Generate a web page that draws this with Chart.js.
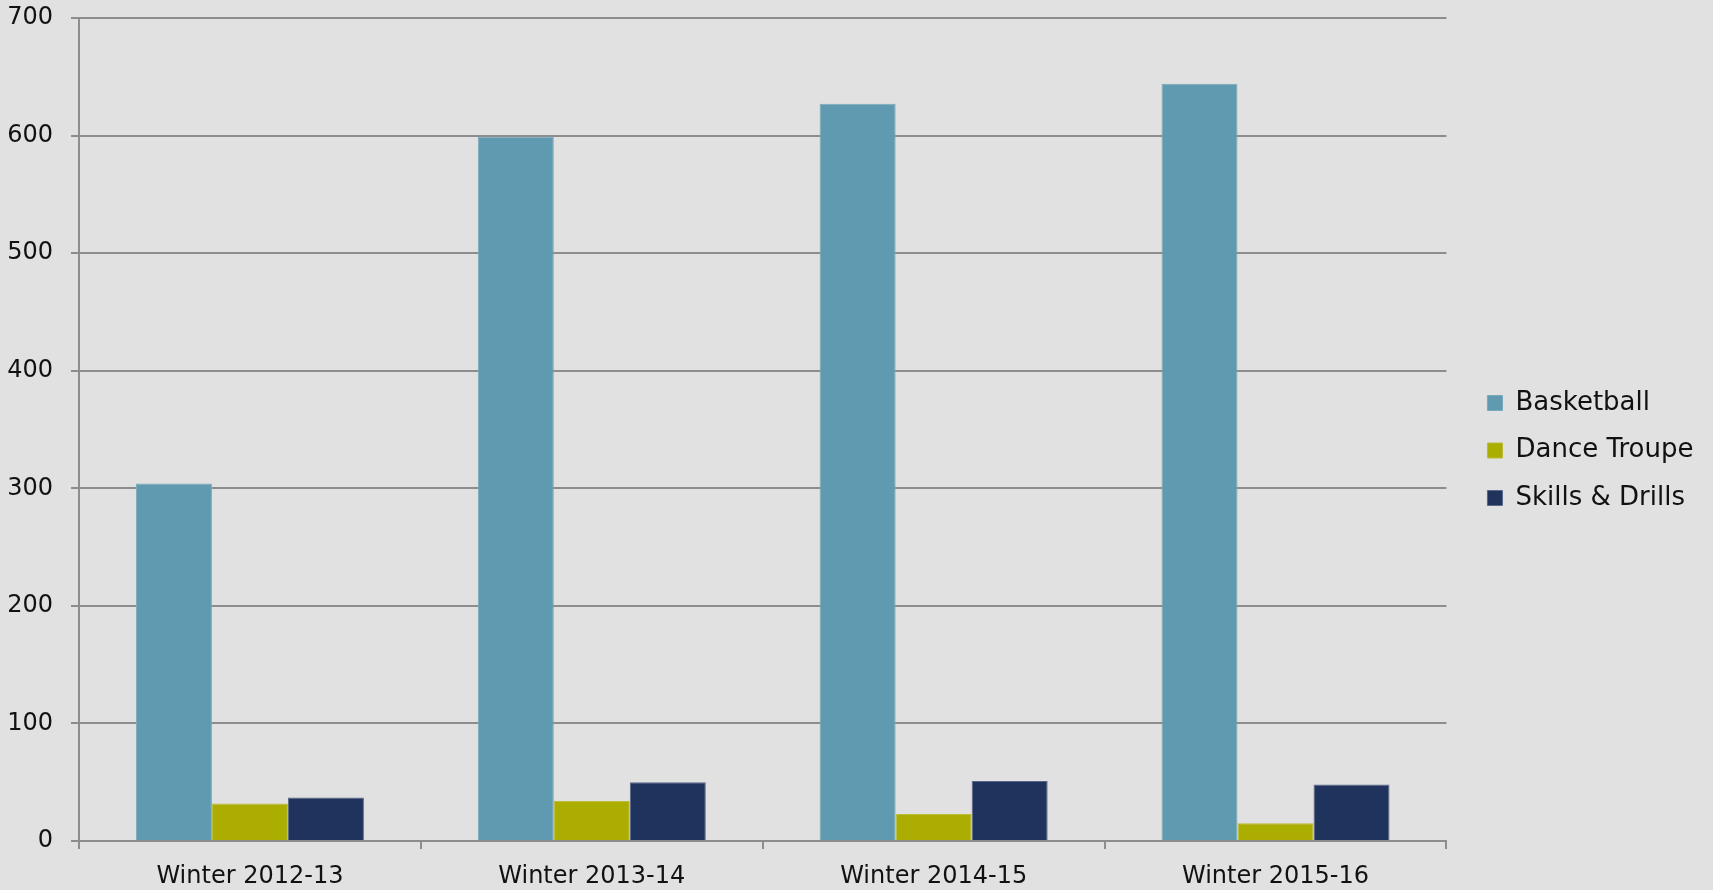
<!DOCTYPE html>
<html>
<head>
<meta charset="utf-8">
<script src="https://cdn.jsdelivr.net/npm/chart.js@4.4.1/dist/chart.umd.min.js"></script>
<style>
  html, body { margin: 0; padding: 0; background: #e1e1e1; }
  #wrap { width: 1713px; height: 890px; }
</style>
</head>
<body>
<div id="wrap"><canvas id="c" width="1713" height="890"></canvas></div>
<script>
// values
const categories = ['Winter 2012-13', 'Winter 2013-14', 'Winter 2014-15', 'Winter 2015-16'];
const basketball = [304, 599, 627, 644];
const danceTroupe = [32, 34, 23, 15];
const skillsDrills = [37, 50, 51, 48];
const seriesNames = ['Basketball', 'Dance Troupe', 'Skills & Drills'];

const gridCol = '#8d8d8d';
Chart.defaults.font.family = '"DejaVu Sans", sans-serif';
Chart.defaults.font.size = 24;
Chart.defaults.color = '#111';

// push the legend a bit further from the plot than its padding allows
const legendGap = {
    id: 'legendGap',
    afterLayout(chart) {
        chart.legend.left += 19.5;
        chart.legend.right += 19.5;
        chart.legend.top += 5.5;
        chart.legend.bottom += 5.5;
    }
};

new Chart(document.getElementById('c'), {
    type: 'bar',
    data: {
        labels: categories,
        datasets: [
            { label: seriesNames[0], data: basketball, backgroundColor: '#5f9ab0', borderColor: '#78a9bc' },
            { label: seriesNames[1], data: danceTroupe, backgroundColor: '#abad00', borderColor: '#babc3a' },
            { label: seriesNames[2], data: skillsDrills, backgroundColor: '#20335c', borderColor: '#58678a' }
        ]
    },
    plugins: [legendGap],
    options: {
        responsive: false,
        animation: false,
        layout: { padding: { left: 7, top: 0, right: 29, bottom: 0 } },
        datasets: { bar: { categoryPercentage: 0.667, barPercentage: 1, borderWidth: 1 } },
        plugins: {
            tooltip: { enabled: false },
            legend: {
                position: 'right',
                labels: { boxWidth: 15, boxHeight: 15, padding: 21.5, color: '#111', font: { size: 26 } }
            }
        },
        scales: {
            x: {
                grid: { drawOnChartArea: false, offset: true, tickLength: 8, color: gridCol, lineWidth: 2 },
                border: { color: gridCol, width: 2 },
                ticks: { padding: 13, maxRotation: 0 },
                afterFit(scale) { scale.height = 49; }
            },
            y: {
                min: 0, max: 700,
                ticks: { stepSize: 100, padding: 18 },
                grid: { color: gridCol, lineWidth: 2, tickLength: 8 },
                border: { color: gridCol, width: 2 },
                afterFit(scale) {
                    scale.width = 72;
                    scale.paddingTop = 18;
                    scale.paddingBottom = 0;
                }
            }
        }
    }
});
</script>
</body>
</html>
